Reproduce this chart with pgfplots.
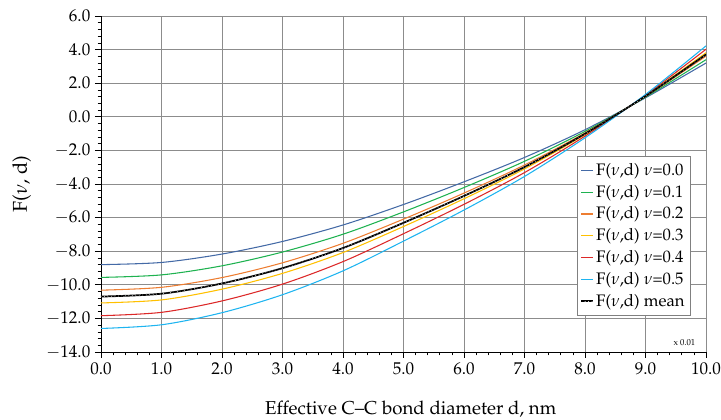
\documentclass[border=0pt]{standalone}
\usepackage[T1]{fontenc}
\usepackage{mathpazo}
\usepackage{pgfplots}
\pgfplotsset{compat=1.18}
\usepackage{pgfplotstable}
\definecolor{c0}{RGB}{68,106,166}
\definecolor{c1}{RGB}{30,178,80}
\definecolor{c2}{RGB}{237,125,49}
\definecolor{c3}{RGB}{255,192,0}
\definecolor{c4}{RGB}{220,40,40}
\definecolor{c5}{RGB}{30,180,240}
\pgfplotsset{li/.style={legend image code/.code={\draw[#1,line width=0.9pt] (0cm,0cm) -- (0.3cm,0cm);}}}
\pgfplotstableread{
d v0 v1 v2 v3 v4 v5 m
0 -8.80 -9.56 -10.32 -11.08 -11.84 -12.60 -10.70
1 -8.67 -9.41 -10.15 -10.90 -11.64 -12.38 -10.53
2 -8.17 -8.87 -9.57 -10.26 -10.96 -11.66 -9.92
3 -7.42 -8.05 -8.69 -9.32 -9.96 -10.59 -9.01
4 -6.44 -6.99 -7.53 -8.08 -8.62 -9.17 -7.81
5 -5.22 -5.66 -6.09 -6.53 -6.96 -7.40 -6.31
6 -3.87 -4.21 -4.54 -4.88 -5.21 -5.55 -4.71
7 -2.42 -2.65 -2.87 -3.10 -3.32 -3.55 -2.99
8 -0.77 -0.87 -0.96 -1.06 -1.15 -1.25 -1.01
9 1.13 1.17 1.21 1.25 1.29 1.33 1.23
10 3.20 3.40 3.61 3.81 4.02 4.22 3.71
}\data
\begin{document}
\begin{tikzpicture}
\begin{axis}[
  scale only axis,
  width=453.75pt, height=252pt,
  xmin=0, xmax=10, ymin=-14, ymax=6,
  axis lines=left,
  axis line style={-, black, line width=0.6pt},
  xtick={0,1,...,10},
  ytick={-14,-12,...,6},
  minor x tick num=4,
  minor y tick num=4,
  tick align=outside,
  major tick length=4.5pt,
  minor tick length=2.5pt,
  tick style={black, line width=0.5pt},
  grid=major,
  major grid style={gray!90, line width=0.6pt},
  xticklabel style={/pgf/number format/.cd, fixed, fixed zerofill, precision=1},
  yticklabel style={/pgf/number format/.cd, fixed, fixed zerofill, precision=1},
  ticklabel style={font=\fontsize{12.8}{14}\selectfont},
  xlabel={Effective C--C bond diameter d, nm},
  ylabel={F($\nu$, d)},
  x label style={font=\fontsize{14}{16}\selectfont, at={(axis description cs:0.512,-0.17)}, anchor=center},
  y label style={font=\fontsize{15}{17}\selectfont, at={(axis description cs:-0.131,0.5)}, anchor=center},
  legend style={at={(rel axis cs:0.975,0.11)}, anchor=south east, draw=gray, fill=white,
    font=\fontsize{12.5}{14}\selectfont, row sep=1.8pt, inner xsep=2.5pt, inner ysep=3pt},
  legend cell align=left,
]
\coordinate (bl) at (rel axis cs:0,0);
\coordinate (tr) at (rel axis cs:1,1);
\addplot[c0, line width=0.8pt, smooth, li=c0] table[x=d,y=v0]{\data};
\addlegendentry{F($\nu$,d) $\nu$=0.0}
\addplot[c1, line width=0.8pt, smooth, li=c1] table[x=d,y=v1]{\data};
\addlegendentry{F($\nu$,d) $\nu$=0.1}
\addplot[c2, line width=0.8pt, smooth, li=c2] table[x=d,y=v2]{\data};
\addlegendentry{F($\nu$,d) $\nu$=0.2}
\addplot[c3, line width=0.8pt, smooth, li=c3] table[x=d,y=v3]{\data};
\addlegendentry{F($\nu$,d) $\nu$=0.3}
\addplot[c4, line width=0.8pt, smooth, li=c4] table[x=d,y=v4]{\data};
\addlegendentry{F($\nu$,d) $\nu$=0.4}
\addplot[c5, line width=0.8pt, smooth, li=c5] table[x=d,y=v5]{\data};
\addlegendentry{F($\nu$,d) $\nu$=0.5}
\addplot[black, line width=1.3pt, smooth,
  legend image code/.code={\draw[black,line width=1.3pt] (0cm,0cm) -- (0.3cm,0cm);
    \draw[white,line width=0.6pt,line cap=round,dash pattern=on 0.01pt off 2.6pt] (0.1cm,0cm) -- (0.3cm,0cm);}]
  table[x=d,y=m]{\data};
\addlegendentry{F($\nu$,d) mean}
\addplot[white, line width=0.6pt, smooth, line cap=round, dash pattern=on 0.01pt off 2.6pt, forget plot]
  table[x=d,y=m]{\data};
\node[anchor=south east, font=\fontsize{6.5}{7}\selectfont, inner sep=1pt] at (rel axis cs:0.985,0.015) {x 0.01};
\end{axis}
\pgfresetboundingbox
\path ([shift={(-75.75pt,-51pt)}]bl) rectangle ([shift={(11.25pt,12pt)}]tr);
\end{tikzpicture}
\end{document}
